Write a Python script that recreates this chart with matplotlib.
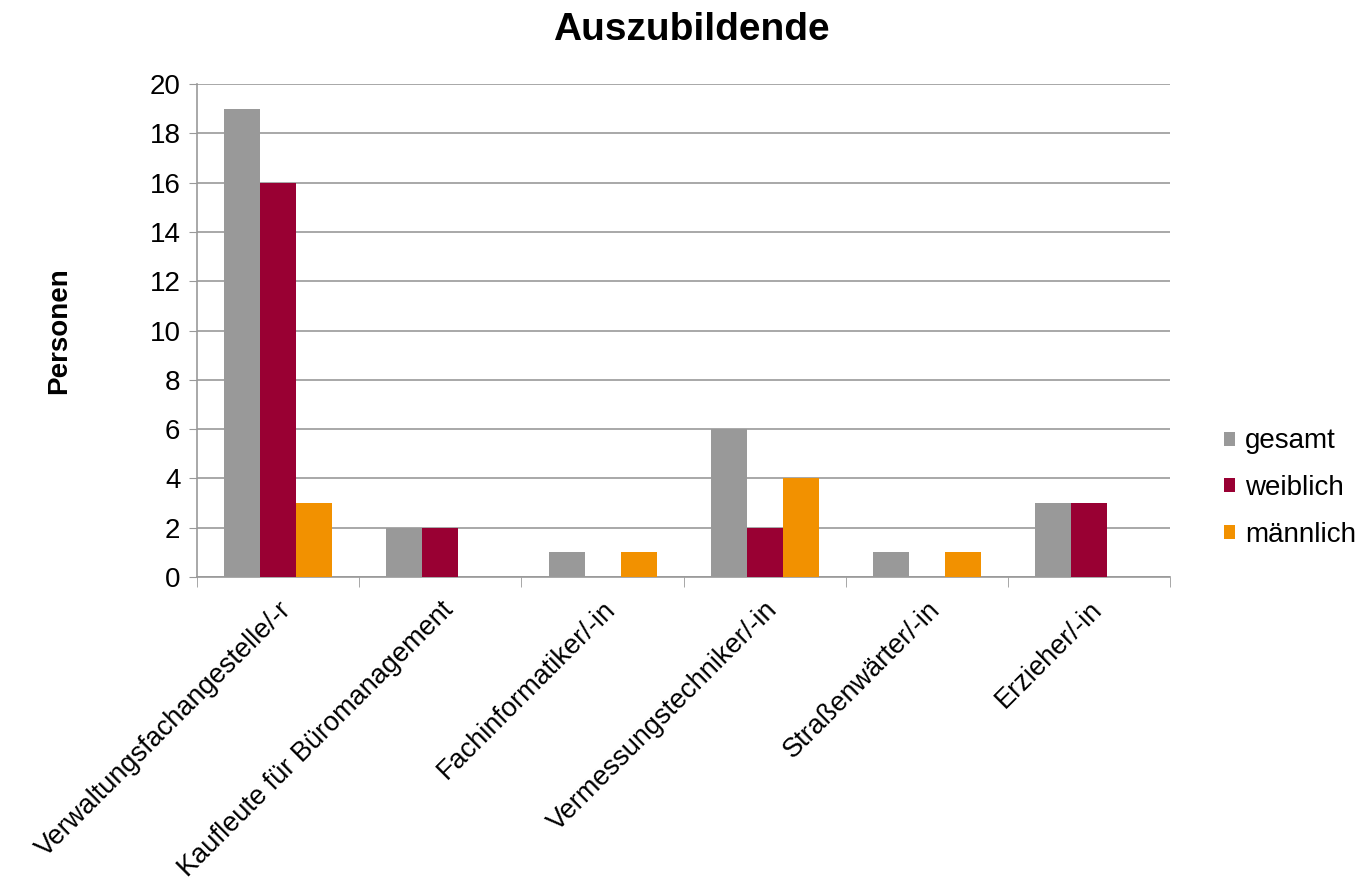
import matplotlib
matplotlib.use("Agg")
import matplotlib.pyplot as plt
import numpy as np

categories = ["Verwaltungsfachangestelle/-r", "Kaufleute für Büromanagement",
              "Fachinformatiker/-in", "Vermessungstechniker/-in",
              "Straßenwärter/-in", "Erzieher/-in"]
series_names = ["gesamt", "weiblich", "männlich"]
gesamt = [19, 2, 1, 6, 1, 3]
weiblich = [16, 2, 0, 2, 0, 3]
maennlich = [3, 0, 1, 4, 1, 0]
colors = ["#999999", "#990033", "#F29100"]

plt.rcParams['font.family'] = ['Liberation Sans', 'DejaVu Sans']

fig = plt.figure(figsize=(13.6, 8.88), dpi=100)
ax = fig.add_axes([0.1449, 0.3502, 0.7155, 0.5552])

x = np.arange(len(categories))
w = 0.222
for i, (vals, name, c) in enumerate(zip([gesamt, weiblich, maennlich], series_names, colors)):
    ax.bar(x + (i - 1) * w, vals, width=w, color=c, label=name, zorder=3)

ax.set_xlim(-0.5, len(categories) - 0.5)
ax.set_ylim(0, 20)
ax.set_yticks(range(0, 21, 2))
ax.tick_params(axis='y', labelsize=20, length=6, color='#999999', direction='out', pad=6)
ax.yaxis.grid(True, color='#999999', linewidth=1.2, zorder=0)
ax.set_axisbelow(True)

ax.set_xticks(x)
ax.set_xticklabels(categories, rotation=45, ha='right', rotation_mode='anchor', fontsize=19.5)
ax.tick_params(axis='x', length=0, pad=14)
ax.set_xticks(np.arange(-0.5, len(categories) + 0.5, 1), minor=True)
ax.tick_params(axis='x', which='minor', length=7, color='#999999')

for s in ['top', 'right']:
    ax.spines[s].set_visible(False)
for s in ['left', 'bottom']:
    ax.spines[s].set_color('#999999')
    ax.spines[s].set_linewidth(1.2)

ax.set_ylabel("Personen", fontsize=20, fontweight='bold')
ax.yaxis.set_label_coords(-0.128, 0.5)
fig.suptitle("Auszubildende", fontsize=28, fontweight='bold', x=0.508, y=0.986)

leg = ax.legend(loc='center left', bbox_to_anchor=(1.03, 0.18), frameon=False, fontsize=20,
                handlelength=0.4, handleheight=0.4, handletextpad=0.35, labelspacing=0.75)

fig.savefig("out.png", dpi=100, facecolor='white')
